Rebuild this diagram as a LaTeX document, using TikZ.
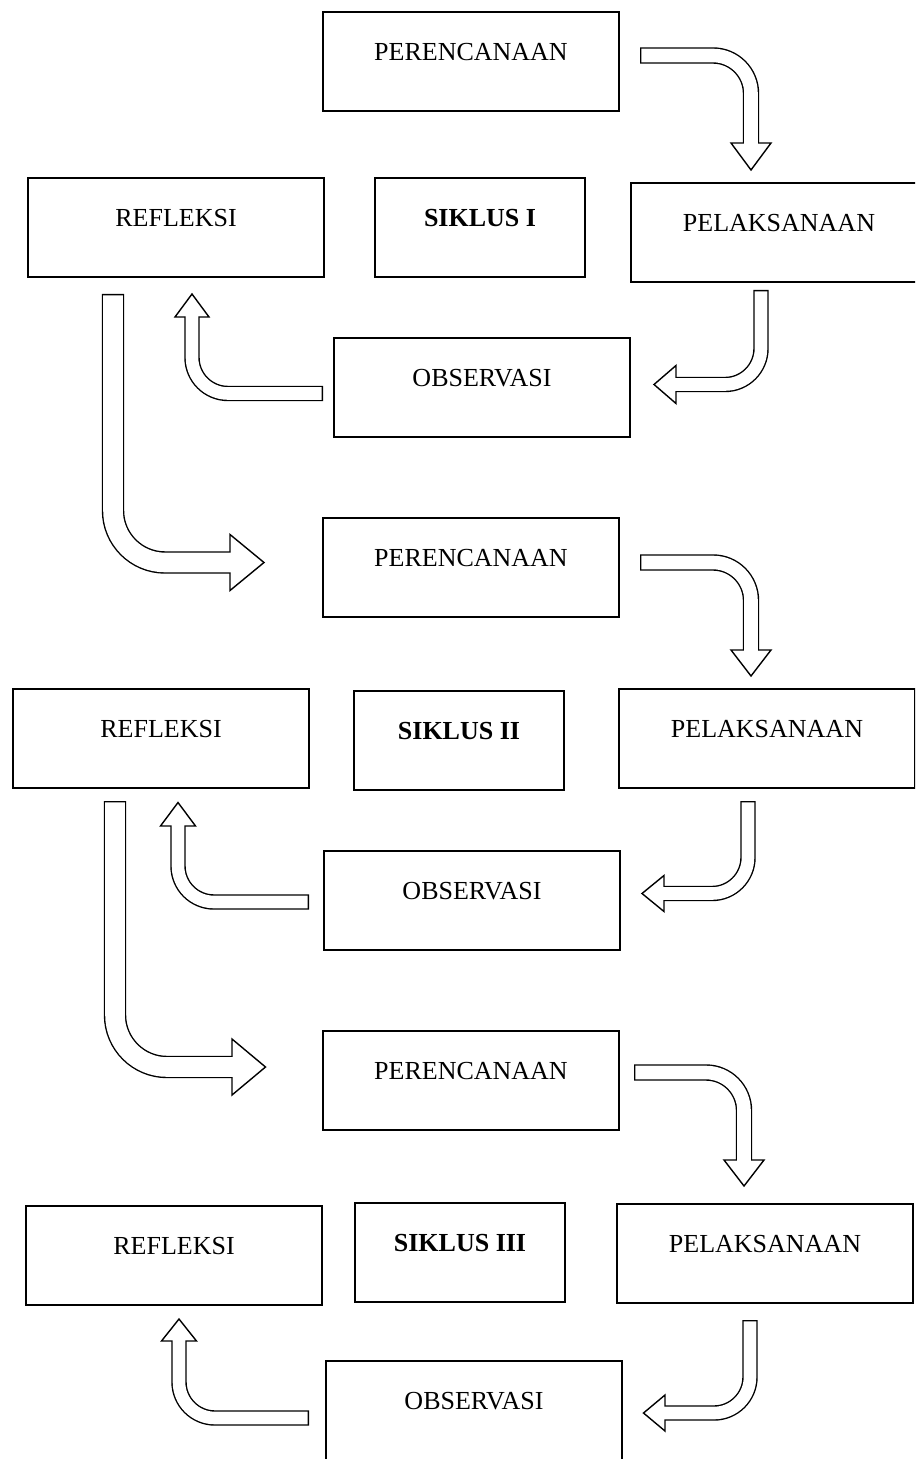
\documentclass[tikz,border=0pt]{standalone}
\usepackage{fontspec}
\setmainfont{Liberation Serif}
\usetikzlibrary{calc}

\tikzset{
  stagebox/.style={draw, line width=0.9pt, anchor=north west, outer sep=0pt, inner sep=0pt,
    minimum width=148pt, minimum height=49.5pt, text height=9pt, text depth=9.9pt,
    font=\fontsize{13pt}{15pt}\selectfont},
  cyclebox/.style={stagebox, minimum width=105pt, font=\fontsize{13pt}{15pt}\selectfont\bfseries},
  tipbox/.style={draw=black, fill=white, line width=0.7pt, line join=miter},
  shaft/.style={draw=white, line width=#1-0.7pt, shorten <=0.7pt, shorten >=-1pt,
    preaction={draw=black, line width=#1+0.7pt, shorten <=0pt, shorten >=0pt}},
}

\begin{document}
\begin{tikzpicture}[x=0.5pt, y=-0.5pt]
    \useasboundingbox (0,0) rectangle (915,1459);
    \fill[white] (0,0) rectangle (915,1459);
    \clip (0,0) rectangle (915,1459);

    % Siklus I
    \node[stagebox] (plan1) at (323,12) {PERENCANAAN};
    \node[stagebox] (refl1) at (28,178) {REFLEKSI};
    \node[cyclebox] (cyc1) at (375,178) {SIKLUS I};
    \node[stagebox] (act1) at (631,183) {PELAKSANAAN};
    \node[stagebox] (obs1) at (334,338) {OBSERVASI};

    \coordinate (pa1s) at ($(plan1.east)+(21,-6)$);
    \coordinate (pa1e) at ($(act1.north west)+(120,-40)$);
    \draw[tipbox] (pa1e) ++(-20,0) -- ++(40,0) -- ++(-20,27) -- cycle;
    \draw[shaft=7.5pt, rounded corners=19pt] (pa1s) -| (pa1e);

    \coordinate (ao1s) at ($(act1.south west)+(130,8)$);
    \coordinate (ao1e) at ($(obs1.east)+(46,-3)$);
    \draw[tipbox] (ao1e) ++(0,-19) -- ++(0,38) -- ++(-22,-19) -- cycle;
    \draw[shaft=7pt, rounded corners=18pt] (ao1s) |- (ao1e);

    \coordinate (or1s) at ($(obs1.west)+(-11,6)$);
    \coordinate (or1e) at ($(refl1.south west)+(164,40)$);
    \draw[tipbox] (or1e) ++(-17,0) -- ++(34,0) -- ++(-17,-23) -- cycle;
    \draw[shaft=7pt, rounded corners=18pt] (or1s) -| (or1e);

    % Siklus II
    \node[stagebox] (plan2) at (323,518) {PERENCANAAN};
    \node[stagebox] (refl2) at (13,689) {REFLEKSI};
    \node[cyclebox] (cyc2) at (354,691) {SIKLUS II};
    \node[stagebox] (act2) at (619,689) {PELAKSANAAN};
    \node[stagebox] (obs2) at (324,851) {OBSERVASI};

    % Siklus I -> Siklus II
    \coordinate (rp1s) at ($(refl1.south west)+(85,17)$);
    \coordinate (rp1e) at ($(plan2.west)+(-93,-5)$);
    \draw[tipbox] (rp1e) ++(0,-28) -- ++(0,56) -- ++(34,-28) -- cycle;
    \draw[shaft=10.5pt, rounded corners=26pt] (rp1s) |- (rp1e);

    \coordinate (pa2s) at ($(plan2.east)+(21,-5)$);
    \coordinate (pa2e) at ($(act2.north west)+(132,-39)$);
    \draw[tipbox] (pa2e) ++(-20,0) -- ++(40,0) -- ++(-20,26) -- cycle;
    \draw[shaft=7.5pt, rounded corners=19pt] (pa2s) -| (pa2e);

    \coordinate (ao2s) at ($(act2.south west)+(129,13)$);
    \coordinate (ao2e) at ($(obs2.east)+(44,-7)$);
    \draw[tipbox] (ao2e) ++(0,-18) -- ++(0,36) -- ++(-22,-18) -- cycle;
    \draw[shaft=7pt, rounded corners=18pt] (ao2s) |- (ao2e);

    \coordinate (or2s) at ($(obs2.west)+(-15,1.5)$);
    \coordinate (or2e) at ($(refl2.south west)+(165,38)$);
    \draw[tipbox] (or2e) ++(-17.5,0) -- ++(35,0) -- ++(-17.5,-23.5) -- cycle;
    \draw[shaft=7pt, rounded corners=18pt] (or2s) -| (or2e);

    % Siklus III
    \node[stagebox] (plan3) at (323,1031) {PERENCANAAN};
    \node[stagebox] (refl3) at (26,1206) {REFLEKSI};
    \node[cyclebox] (cyc3) at (355,1203) {SIKLUS III};
    \node[stagebox] (act3) at (617,1204) {PELAKSANAAN};
    \node[stagebox] (obs3) at (326,1361) {OBSERVASI};

    % Siklus II -> Siklus III
    \coordinate (rp2s) at ($(refl2.south west)+(102,13)$);
    \coordinate (rp2e) at ($(plan3.west)+(-91,-13.5)$);
    \draw[tipbox] (rp2e) ++(0,-28) -- ++(0,56) -- ++(33.5,-28) -- cycle;
    \draw[shaft=10.5pt, rounded corners=26pt] (rp2s) |- (rp2e);

    \coordinate (pa3s) at ($(plan3.east)+(15,-8)$);
    \coordinate (pa3e) at ($(act3.north west)+(127,-44)$);
    \draw[tipbox] (pa3e) ++(-20,0) -- ++(40,0) -- ++(-20,26) -- cycle;
    \draw[shaft=7.5pt, rounded corners=19pt] (pa3s) -| (pa3e);

    \coordinate (ao3s) at ($(act3.south west)+(133,17)$);
    \coordinate (ao3e) at ($(obs3.east)+(43,2.5)$);
    \draw[tipbox] (ao3e) ++(0,-18) -- ++(0,36) -- ++(-21.5,-18) -- cycle;
    \draw[shaft=7pt, rounded corners=18pt] (ao3s) |- (ao3e);

    \coordinate (or3s) at ($(obs3.west)+(-17,7.5)$);
    \coordinate (or3e) at ($(refl3.south west)+(153,36)$);
    \draw[tipbox] (or3e) ++(-17.5,0) -- ++(35,0) -- ++(-17.5,-22) -- cycle;
    \draw[shaft=7pt, rounded corners=18pt] (or3s) -| (or3e);
\end{tikzpicture}
\end{document}
